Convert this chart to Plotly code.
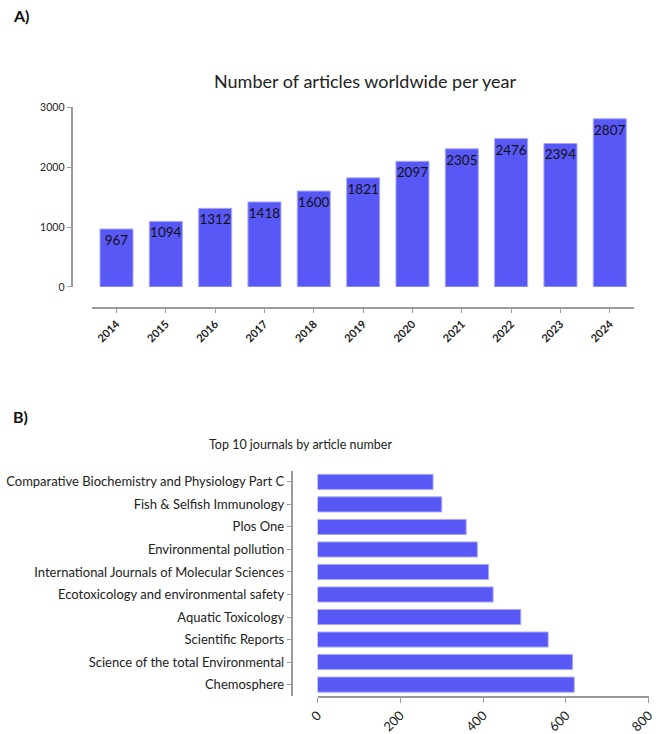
import plotly.graph_objects as go

# ---- data ----
years = ["2014", "2015", "2016", "2017", "2018", "2019", "2020", "2021", "2022", "2023", "2024"]
articles = [967, 1094, 1312, 1418, 1600, 1821, 2097, 2305, 2476, 2394, 2807]

journals = [
    "Comparative Biochemistry and Physiology Part C",
    "Fish & Selfish Immunology",
    "Plos One",
    "Environmental pollution",
    "International Journals of Molecular Sciences",
    "Ecotoxicology and environmental safety",
    "Aquatic Toxicology",
    "Scientific Reports",
    "Science of the total Environmental",
    "Chemosphere",
]
journal_counts = [279, 300, 359, 386, 413, 424, 491, 557, 616, 620]

y_ticks_top = [0, 1000, 2000, 3000]
x_ticks_bottom = [0, 200, 400, 600, 800]

# ---- style ----
W, H = 658, 734
FONT = "Lato"
BAR = "#5858F6"
EDGE = "#a9a9f8"
AXIS = "#9a9a9a"
TXT = "#222222"


def px_x(p):
    return p / W


def px_y(p):
    return 1 - p / H


fig = go.Figure()

fig.add_trace(go.Bar(
    x=years, y=articles, xaxis="x", yaxis="y",
    marker=dict(color=BAR, line=dict(color=EDGE, width=1)),
    text=[str(v) for v in articles],
    textposition="inside", insidetextanchor="end", textangle=0,
    constraintext="none",
    textfont=dict(family=FONT, size=13.5, color="#111111"),
    showlegend=False,
))

fig.add_trace(go.Bar(
    x=journal_counts, y=journals, orientation="h", xaxis="x2", yaxis="y2",
    marker=dict(color=BAR, line=dict(color=EDGE, width=1)),
    showlegend=False,
))

axis_common = dict(
    showline=True, linecolor=AXIS, linewidth=1.5,
    ticks="outside", ticklen=5, tickwidth=1, tickcolor=AXIS,
    showgrid=False, zeroline=False, ticklabeloverflow="allow",
)

fig.update_layout(
    width=W, height=H,
    margin=dict(l=0, r=0, t=0, b=0),
    paper_bgcolor="white", plot_bgcolor="white",
    font=dict(family=FONT, color=TXT),
    bargap=0.33,
    xaxis=dict(
        domain=[px_x(84), px_x(641)], anchor="free", position=px_y(307),
        type="category", range=[-0.5, 10.5],
        tickangle=-45,
        tickfont=dict(family=FONT, size=11, color=TXT, weight="bold"),
        **axis_common,
    ),
    yaxis=dict(
        domain=[px_y(286), px_y(103)], anchor="free", position=px_x(64),
        range=[0, 3000], tickvals=y_ticks_top,
        tickfont=dict(family=FONT, size=10.5, color=TXT),
        **axis_common,
    ),
    xaxis2=dict(
        domain=[px_x(315.7), px_x(655.7)], anchor="y2",
        range=[0, 800], tickvals=x_ticks_bottom,
        tickangle=-45,
        tickfont=dict(family=FONT, size=13, color=TXT),
        **axis_common,
    ),
    yaxis2=dict(
        domain=[px_y(702.3), px_y(473)], anchor="free", position=px_x(289),
        type="category", range=[9.5, -0.5],
        tickfont=dict(family=FONT, size=13, color=TXT),
        ticklen=4, showline=True, linecolor=AXIS, linewidth=1.5,
        ticks="outside", tickwidth=1, tickcolor=AXIS,
        showgrid=False, zeroline=False,
    ),
)

annos = [
    dict(text="<b>A)</b>", x=px_x(1), y=px_y(10), xanchor="left", yanchor="middle",
         font=dict(family=FONT, size=16, color="#111111")),
    dict(text="Number of articles worldwide per year", x=px_x(364), y=px_y(76),
         xanchor="center", yanchor="middle", font=dict(family=FONT, size=18, color=TXT)),
    dict(text="<b>B)</b>", x=px_x(1), y=px_y(418), xanchor="left", yanchor="middle",
         font=dict(family=FONT, size=16, color="#111111")),
    dict(text="Top 10 journals by article number", x=px_x(298), y=px_y(446),
         xanchor="center", yanchor="middle", font=dict(family=FONT, size=12.5, color=TXT)),
]
for a in annos:
    fig.add_annotation(xref="paper", yref="paper", showarrow=False, **a)

fig.write_html("out.html")
